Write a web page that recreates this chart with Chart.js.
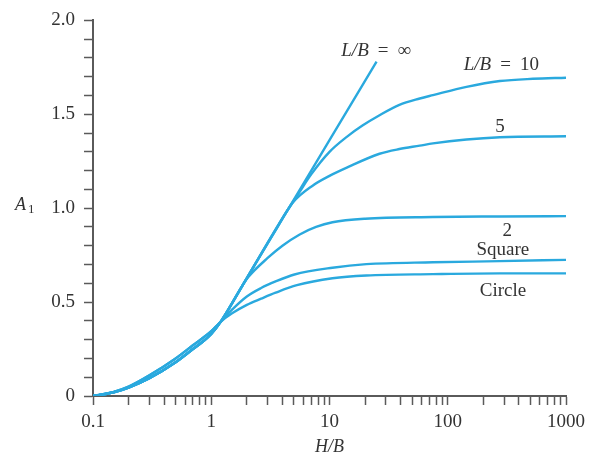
<!DOCTYPE html>
<html>
<head>
<meta charset="utf-8">
<script src="https://cdn.jsdelivr.net/npm/chart.js@4/dist/chart.umd.min.js"></script>
<style>
html, body { margin: 0; padding: 0; background: #fff; }
#wrap { width: 596px; height: 462px; }
</style>
</head>
<body>
<div id="wrap"><canvas id="c" width="596" height="462"></canvas></div>
<script>
// Influence factor A1 versus depth ratio H/B for several footing shapes.
const xMajor = [0.1, 1, 10, 100, 1000];
const xTickLabels = ['0.1', '1', '10', '100', '1000'];
const yMajor = [0, 0.5, 1.0, 1.5, 2.0];
const yTickLabels = ['0', '0.5', '1.0', '1.5', '2.0'];

// L/B = infinity (strip)
const hbStrip = [0.1, 0.15, 0.2, 0.3, 0.5, 0.7, 0.85, 1.0, 1.2, 2, 5, 10, 25];
const a1Strip = [0, 0.02, 0.045, 0.095, 0.18, 0.25, 0.29, 0.33, 0.395, 0.628, 1.046, 1.362, 1.78];

// L/B = 10
const hb10 = [0.1, 0.15, 0.2, 0.3, 0.5, 0.7, 0.85, 1.0, 1.2, 2, 4, 5.5, 7, 10, 14, 19, 26.5, 39, 58, 75, 144, 276, 525, 1000];
const a110 = [0, 0.02, 0.045, 0.095, 0.18, 0.25, 0.29, 0.33, 0.395, 0.628, 0.947, 1.08, 1.18, 1.30, 1.38, 1.44, 1.495, 1.55, 1.584, 1.602, 1.646, 1.677, 1.689, 1.695];

// L/B = 5
const hb5 = [0.1, 0.15, 0.2, 0.3, 0.5, 0.7, 0.85, 1.0, 1.2, 2, 3.5, 4.9, 7.2, 10, 14, 26.5, 39, 58, 75, 144, 276, 1000];
const a15 = [0, 0.02, 0.045, 0.095, 0.18, 0.25, 0.29, 0.33, 0.395, 0.628, 0.883, 1.03, 1.12, 1.172, 1.216, 1.29, 1.315, 1.333, 1.345, 1.366, 1.378, 1.383];

// L/B = 2
const hb2 = [0.1, 0.15, 0.2, 0.3, 0.5, 0.7, 0.85, 1.0, 1.2, 1.8, 2.05, 3, 4, 5.6, 7.7, 10.6, 20, 75, 275, 1000];
const a12 = [0, 0.02, 0.045, 0.095, 0.18, 0.25, 0.29, 0.33, 0.395, 0.58, 0.632, 0.735, 0.80, 0.86, 0.90, 0.925, 0.944, 0.953, 0.956, 0.958];

// Square
const hbSquare = [0.1, 0.15, 0.2, 0.3, 0.5, 0.7, 1.0, 1.2, 1.5, 2.0, 2.64, 3.5, 5.05, 10.6, 20.5, 75, 275, 1000];
const a1Square = [0, 0.022, 0.05, 0.11, 0.2, 0.27, 0.345, 0.395, 0.46, 0.53, 0.575, 0.61, 0.647, 0.683, 0.702, 0.712, 0.718, 0.725];

// Circle
const hbCircle = [0.1, 0.15, 0.2, 0.3, 0.5, 0.7, 1.0, 1.2, 1.5, 2.0, 2.64, 3.5, 5.3, 10.6, 20.5, 75, 275, 1000];
const a1Circle = [0, 0.022, 0.05, 0.11, 0.2, 0.27, 0.345, 0.395, 0.44, 0.485, 0.518, 0.55, 0.59, 0.627, 0.642, 0.649, 0.653, 0.653];

const LINE = '#2aa9de';
const TEXT = '#333333';
const AXIS = '#5a5a5a';
const SERIF = '"Liberation Serif", "Times New Roman", serif';

function pts(xs, ys) { return xs.map((v, i) => ({ x: v, y: ys[i] })); }

// tick positions: decades plus 2..9 minor marks on x, every 0.1 on y
const xTicks = [];
xMajor.forEach((d, i) => {
  xTicks.push(d);
  if (i < xMajor.length - 1) for (let k = 2; k <= 9; k++) xTicks.push(+(d * k).toPrecision(6));
});
const yTicks = [];
for (let i = 0; i <= 20; i++) yTicks.push(+(i / 10).toFixed(1));

function near(a, b) { return Math.abs(a - b) < 1e-9 * Math.max(1, Math.abs(b)); }

function series(label, xs, ys) {
  return {
    label, data: pts(xs, ys),
    borderColor: LINE, borderWidth: 2.4, pointRadius: 0,
    fill: false, cubicInterpolationMode: 'monotone'
  };
}

// text runs: [text, italic, gapAfter]
function drawRuns(ctx, runs, cx, base, size) {
  let total = 0;
  const widths = runs.map(r => {
    ctx.font = (r[1] ? 'italic ' : '') + size + 'px ' + SERIF;
    const w = ctx.measureText(r[0]).width;
    total += w + (r[2] || 0);
    return w;
  });
  let x = cx - total / 2;
  runs.forEach((r, i) => {
    ctx.font = (r[1] ? 'italic ' : '') + size + 'px ' + SERIF;
    ctx.fillText(r[0], x, base);
    x += widths[i] + (r[2] || 0);
  });
}

const curveLabels = [
  { runs: [['L/B', true, 9], ['=', false, 9], ['\u221E', false, 0]], at: [24.8, 1.81] },
  { runs: [['L/B', true, 9], ['=', false, 9], ['10', false, 0]], at: [284, 1.734] },
  { runs: [['5', false, 0]], at: [276, 1.405] },
  { runs: [['2', false, 0]], at: [318, 0.853] },
  { runs: [['Square', false, 0]], at: [292, 0.753] },
  { runs: [['Circle', false, 0]], at: [293, 0.532] }
];

const annotations = {
  id: 'annotations',
  afterDraw(chart) {
    const { ctx, chartArea, scales: { x, y } } = chart;
    ctx.save();
    ctx.fillStyle = TEXT;
    ctx.textAlign = 'left';
    ctx.textBaseline = 'alphabetic';
    curveLabels.forEach(l => {
      drawRuns(ctx, l.runs, x.getPixelForValue(l.at[0]), y.getPixelForValue(l.at[1]), 19);
    });
    // y-axis title A1
    const yb = y.getPixelForValue(1.0) + 1.5;
    ctx.font = 'italic 18px ' + SERIF;
    ctx.fillText('A', chartArea.left - 78, yb);
    ctx.font = '13px ' + SERIF;
    ctx.fillText('1', chartArea.left - 65, yb + 3);
    // x-axis title H/B
    drawRuns(ctx, [['H/B', true, 0]], x.getPixelForValue(10), chartArea.bottom + 56, 18);
    ctx.restore();
  }
};

new Chart(document.getElementById('c'), {
  type: 'line',
  data: {
    datasets: [
      series('L/B = \u221E', hbStrip, a1Strip),
      series('L/B = 10', hb10, a110),
      series('L/B = 5', hb5, a15),
      series('L/B = 2', hb2, a12),
      series('Square', hbSquare, a1Square),
      series('Circle', hbCircle, a1Circle)
    ]
  },
  options: {
    responsive: false,
    devicePixelRatio: 1,
    animation: false,
    layout: { padding: { top: 16, right: 30, left: 0, bottom: 0 } },
    plugins: { legend: { display: false }, tooltip: { enabled: false } },
    scales: {
      x: {
        type: 'logarithmic', min: 0.1, max: 1000,
        afterBuildTicks: s => { s.ticks = xTicks.map(v => ({ value: v })); },
        afterFit: s => { s.height = 66; },
        ticks: {
          autoSkip: false, maxRotation: 0, minRotation: 0, padding: 6,
          color: TEXT, font: { family: SERIF, size: 19 },
          callback: v => { const i = xMajor.findIndex(m => near(v, m)); return i >= 0 ? xTickLabels[i] : ''; }
        },
        grid: { drawOnChartArea: false, drawTicks: true, tickLength: 9, tickColor: AXIS, tickWidth: 1.5 },
        border: { display: true, color: AXIS, width: 2 }
      },
      y: {
        type: 'linear', min: 0, max: 2,
        afterBuildTicks: s => { s.ticks = yTicks.map(v => ({ value: v })); },
        afterFit: s => { s.width = 93; },
        ticks: {
          autoSkip: false, padding: 9,
          color: TEXT, font: { family: SERIF, size: 19 },
          callback: v => { const i = yMajor.findIndex(m => near(v, m)); return i >= 0 ? yTickLabels[i] : ''; }
        },
        grid: { drawOnChartArea: false, drawTicks: true, tickLength: 9, tickColor: AXIS, tickWidth: 1.5 },
        border: { display: true, color: AXIS, width: 2 }
      }
    }
  },
  plugins: [annotations]
});
</script>
</body>
</html>
